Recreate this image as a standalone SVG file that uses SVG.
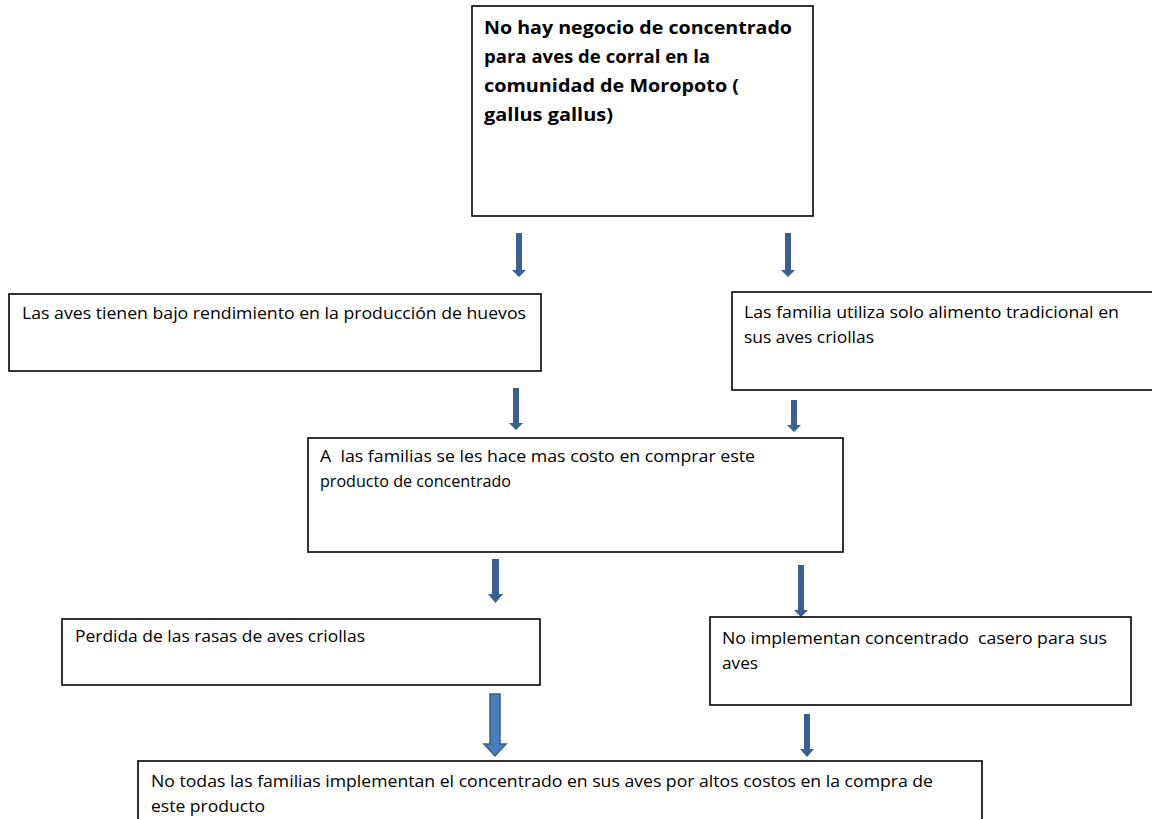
<svg xmlns="http://www.w3.org/2000/svg" width="1152" height="819" viewBox="0 0 1152 819">
<style>
.box{fill:#fff;stroke:#000;stroke-width:1.6}
.t{font-family:"Open Sans","Liberation Sans",sans-serif;font-size:16px;fill:#000}
.tb{font-family:"Open Sans","Liberation Sans",sans-serif;font-size:18.5px;font-weight:bold;fill:#000}
.arr{fill:#3b5f8e}
.arrw{fill:#4a7ebb;stroke:#385d8a;stroke-width:1.5}
</style>
<rect width="1152" height="819" fill="#fff"/>
<g id="connectors">
<polygon class="arr" points="516,233 522,233 522,270 526,270 519,277 512,270 516,270"/>
<polygon class="arr" points="785,233 791,233 791,270 795,270 788,277 781,270 785,270"/>
<polygon class="arr" points="513,388 519,388 519,423 523,423 516,430 509,423 513,423"/>
<polygon class="arr" points="791,400 797,400 797,425 801,425 794,432 787,425 791,425"/>
<polygon class="arr" points="492,559 499,559 499,594 503,594 495.5,603 488,594 492,594"/>
<polygon class="arr" points="798,565 804,565 804,610 808,610 801,617 794,610 798,610"/>
<polygon class="arrw" points="490,694 500,694 500,744 506,744 495,756 484,744 490,744"/>
<polygon class="arr" points="804,714 810,714 810,749 814,749 807,757 800,749 804,749"/>
</g>
<g id="n1">
<rect class="box" x="472" y="6" width="341" height="210"/>
<text class="tb" x="484" y="34" textLength="308" lengthAdjust="spacingAndGlyphs">No hay negocio de concentrado</text>
<text class="tb" x="484" y="63" textLength="226" lengthAdjust="spacingAndGlyphs">para aves de corral en la</text>
<text class="tb" x="484" y="92" textLength="255" lengthAdjust="spacingAndGlyphs">comunidad de Moropoto (</text>
<text class="tb" x="484" y="121" textLength="129" lengthAdjust="spacingAndGlyphs">gallus gallus)</text>
</g>
<g id="n2">
<rect class="box" x="9" y="294" width="532" height="77"/>
<text class="t" x="22" y="319" textLength="504" lengthAdjust="spacingAndGlyphs">Las aves tienen bajo rendimiento en la producción de huevos</text>
</g>
<g id="n3">
<rect class="box" x="732" y="292" width="424" height="98"/>
<text class="t" x="744" y="318" textLength="375" lengthAdjust="spacingAndGlyphs">Las familia utiliza solo alimento tradicional en</text>
<text class="t" x="744" y="343" textLength="130" lengthAdjust="spacingAndGlyphs">sus aves criollas</text>
</g>
<g id="n4">
<rect class="box" x="308" y="438" width="535" height="114"/>
<text class="t" x="320" y="462" textLength="435" lengthAdjust="spacingAndGlyphs" xml:space="preserve">A  las familias se les hace mas costo en comprar este</text>
<text class="t" x="320" y="487" textLength="191" lengthAdjust="spacingAndGlyphs">producto de concentrado</text>
</g>
<g id="n5">
<rect class="box" x="62" y="619" width="478" height="66"/>
<text class="t" x="75" y="642" textLength="290" lengthAdjust="spacingAndGlyphs">Perdida de las rasas de aves criollas</text>
</g>
<g id="n6">
<rect class="box" x="710" y="617" width="421" height="88"/>
<text class="t" x="722" y="644" textLength="385" lengthAdjust="spacingAndGlyphs" xml:space="preserve">No implementan concentrado  casero para sus</text>
<text class="t" x="722" y="669" textLength="36" lengthAdjust="spacingAndGlyphs">aves</text>
</g>
<g id="n7">
<rect class="box" x="138" y="761" width="844" height="70"/>
<text class="t" x="151" y="787" textLength="782" lengthAdjust="spacingAndGlyphs">No todas las familias implementan el concentrado en sus aves por altos costos en la compra de</text>
<text class="t" x="151" y="812" textLength="114" lengthAdjust="spacingAndGlyphs">este producto</text>
</g>
</svg>
